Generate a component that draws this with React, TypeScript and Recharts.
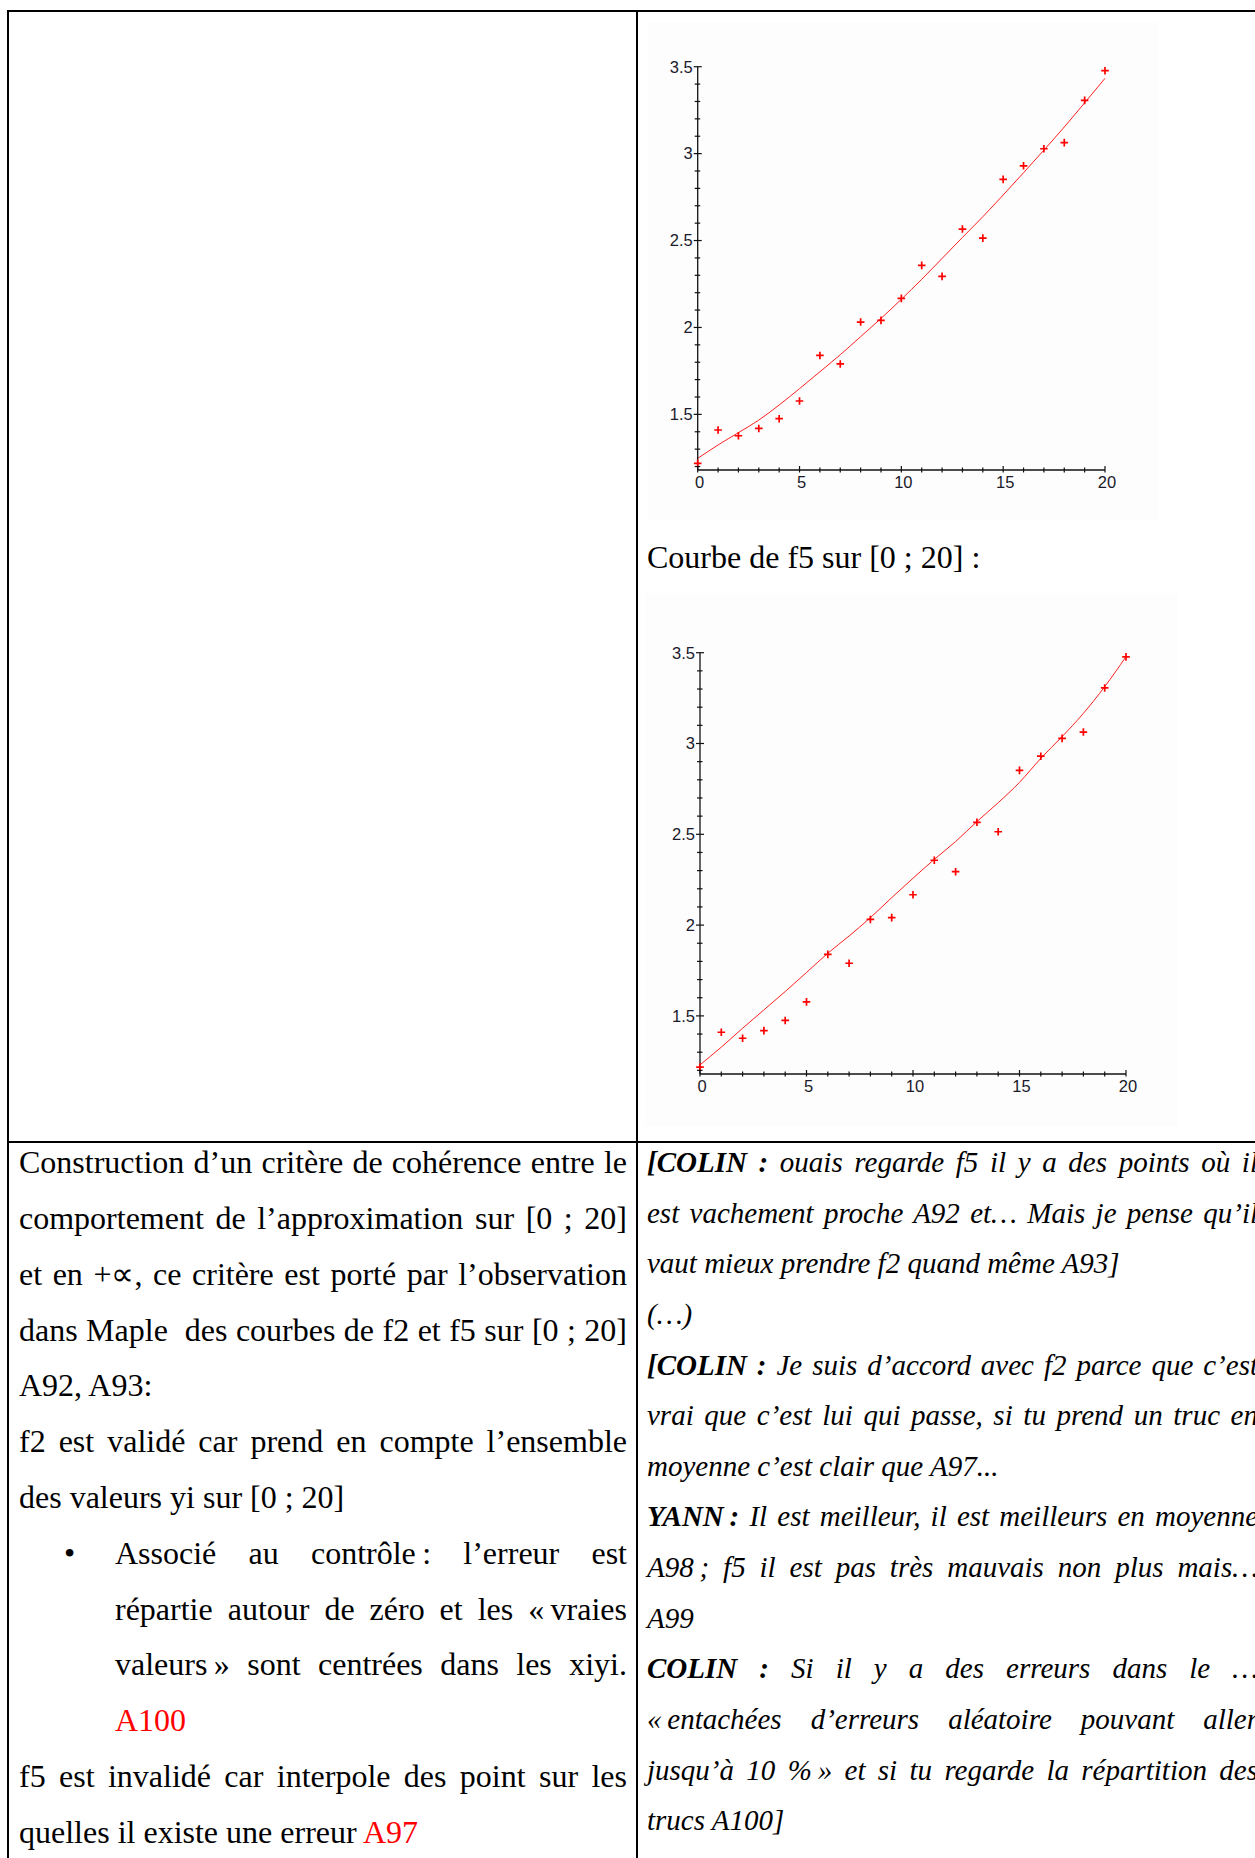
import React from "react";
import { ComposedChart, Line, Scatter, XAxis, YAxis } from "recharts";

// Mesures xi / yi et les deux ajustements tracés sur [0 ; 20]
const xValues = [0, 1, 2, 3, 4, 5, 6, 7, 8, 9, 10, 11, 12, 13, 14, 15, 16, 17, 18, 19, 20];
const observedY = [
  1.218, 1.41, 1.377, 1.419, 1.475, 1.577, 1.839, 1.79, 2.031, 2.041, 2.167,
  2.357, 2.294, 2.566, 2.514, 2.852, 2.93, 3.028, 3.063, 3.306, 3.477,
];
const f2Values = [
  1.247, 1.324, 1.395, 1.467, 1.554, 1.648, 1.745, 1.843, 1.947, 2.052, 2.162,
  2.277, 2.397, 2.518, 2.637, 2.762, 2.89, 3.02, 3.153, 3.292, 3.433,
];
const f5Values = [
  1.23, 1.328, 1.432, 1.533, 1.634, 1.739, 1.845, 1.94, 2.041, 2.151, 2.258,
  2.362, 2.46, 2.57, 2.674, 2.786, 2.918, 3.038, 3.166, 3.313, 3.478,
];

const xTicks = [0, 1, 2, 3, 4, 5, 6, 7, 8, 9, 10, 11, 12, 13, 14, 15, 16, 17, 18, 19, 20];
const xTickLabels = [0, 5, 10, 15, 20];
const yTicks = [
  1.2, 1.3, 1.4, 1.5, 1.6, 1.7, 1.8, 1.9, 2, 2.1, 2.2, 2.3, 2.4, 2.5, 2.6, 2.7,
  2.8, 2.9, 3, 3.1, 3.2, 3.3, 3.4, 3.5,
];
const yTickLabels = [1.5, 2, 2.5, 3, 3.5];

const axisColor = "#111";
const tickFont = { fontFamily: "'Liberation Sans', Arial, sans-serif", fontSize: 16.5, fill: "#1a1a2a" };

function XTick(props: any) {
  const { x, y, payload } = props;
  const major = xTickLabels.includes(payload.value);
  return (
    <g>
      <line x1={x} x2={x} y1={y - (major ? 4 : 2.5)} y2={y + 2.5} stroke={axisColor} strokeWidth={1.2} />
      {major && (
        <text x={x + 2} y={y + 18} textAnchor="middle" style={tickFont}>
          {payload.value}
        </text>
      )}
    </g>
  );
}

function YTick(props: any) {
  const { x, y, payload } = props;
  const major = yTickLabels.includes(payload.value);
  return (
    <g>
      <line x1={x - (major ? 4 : 3)} x2={x + (major ? 4 : 2.5)} y1={y} y2={y} stroke={axisColor} strokeWidth={1.2} />
      {major && (
        <text x={x - 5} y={y + 5.8} textAnchor="end" style={tickFont}>
          {payload.value}
        </text>
      )}
    </g>
  );
}

function Cross(props: any) {
  const { cx, cy } = props;
  if (cx == null || cy == null) return null;
  return (
    <path
      d={`M${cx - 3.8},${cy}H${cx + 3.8}M${cx},${cy - 3.8}V${cy + 3.8}`}
      stroke="#ff0000"
      strokeWidth={1.7}
      fill="none"
    />
  );
}

function FitChart({
  fit,
  width,
  height,
  top,
  right,
  yAxisWidth,
  xAxisHeight,
}: {
  fit: number[];
  width: number;
  height: number;
  top: number;
  right: number;
  yAxisWidth: number;
  xAxisHeight: number;
}) {
  const rows = xValues.map((x, i) => ({ x, obs: observedY[i], fit: fit[i] }));
  return (
    <ComposedChart width={width} height={height} data={rows} margin={{ top, right, bottom: 0, left: 0 }}>
      <XAxis
        type="number"
        dataKey="x"
        domain={[0, 20]}
        ticks={xTicks}
        interval={0}
        tick={(p: any) => <XTick {...p} />}
        tickLine={false}
        tickSize={0}
        tickMargin={0}
        height={xAxisHeight}
        axisLine={{ stroke: axisColor, strokeWidth: 1.3 }}
      />
      <YAxis
        type="number"
        domain={[1.18, 3.5]}
        allowDataOverflow
        ticks={yTicks}
        interval={0}
        tick={(p: any) => <YTick {...p} />}
        tickLine={false}
        tickSize={0}
        tickMargin={0}
        width={yAxisWidth}
        axisLine={{ stroke: axisColor, strokeWidth: 1.3 }}
      />
      <Line dataKey="fit" type="monotone" stroke="#ff2020" strokeWidth={1} dot={false} isAnimationActive={false} />
      <Scatter dataKey="obs" shape={(p: any) => <Cross {...p} />} isAnimationActive={false} />
    </ComposedChart>
  );
}

type Part = { text: string; bold?: boolean; red?: boolean };
type TextLine = { parts: Part[]; justify?: boolean };

// espace fine insécable devant la ponctuation double
const nb = "\u202F";

const leftLines: TextLine[] = [
  { parts: [{ text: "Construction d\u2019un critère de cohérence entre le" }], justify: true },
  { parts: [{ text: "comportement de l\u2019approximation sur [0 ; 20]" }], justify: true },
  { parts: [{ text: "et en +\u221D, ce critère est porté par l\u2019observation" }], justify: true },
  { parts: [{ text: "dans Maple  des courbes de f2 et f5 sur [0 ; 20]" }], justify: true },
  { parts: [{ text: "A92, A93:" }] },
  { parts: [{ text: "f2 est validé car prend en compte l\u2019ensemble" }], justify: true },
  { parts: [{ text: "des valeurs yi sur [0 ; 20]" }] },
];

const bulletLines: TextLine[] = [
  { parts: [{ text: `Associé au contrôle${nb}: l\u2019erreur est` }], justify: true },
  { parts: [{ text: `répartie autour de zéro et les «${nb}vraies` }], justify: true },
  { parts: [{ text: `valeurs${nb}» sont centrées dans les xiyi.` }], justify: true },
  { parts: [{ text: "A100", red: true }] },
];

const tailLines: TextLine[] = [
  { parts: [{ text: "f5 est invalidé car interpole des point sur les" }], justify: true },
  { parts: [{ text: "quelles il existe une erreur " }, { text: "A97", red: true }] },
];

const rightLines: TextLine[] = [
  { parts: [{ text: "[COLIN :", bold: true }, { text: " ouais regarde f5 il y a des points où il" }], justify: true },
  { parts: [{ text: "est vachement proche A92 et\u2026 Mais je pense qu\u2019il" }], justify: true },
  { parts: [{ text: "vaut mieux prendre f2 quand même A93]" }] },
  { parts: [{ text: "(\u2026)" }] },
  { parts: [{ text: "[COLIN :", bold: true }, { text: " Je suis d\u2019accord avec f2 parce que c\u2019est" }], justify: true },
  { parts: [{ text: "vrai que c\u2019est lui qui passe, si tu prend un truc en" }], justify: true },
  { parts: [{ text: "moyenne c\u2019est clair que A97..." }] },
  { parts: [{ text: `YANN${nb}:`, bold: true }, { text: " Il est meilleur, il est meilleurs en moyenne" }], justify: true },
  { parts: [{ text: `A98${nb}; f5 il est pas très mauvais non plus mais\u2026` }], justify: true },
  { parts: [{ text: "A99" }] },
  { parts: [{ text: "COLIN :", bold: true }, { text: " Si il y a des erreurs dans le \u2026" }], justify: true },
  { parts: [{ text: `«${nb}entachées d\u2019erreurs aléatoire pouvant aller` }], justify: true },
  { parts: [{ text: `jusqu\u2019à 10 %${nb}» et si tu regarde la répartition des` }], justify: true },
  { parts: [{ text: "trucs A100]" }] },
];

const serif = "'Liberation Serif', 'Times New Roman', serif";

function TextBlock({
  lines,
  left,
  top,
  width,
  fontSize,
  lineHeight,
  italic,
}: {
  lines: TextLine[];
  left: number;
  top: number;
  width: number;
  fontSize: number;
  lineHeight: number;
  italic?: boolean;
}) {
  return (
    <div
      style={{
        position: "absolute",
        left,
        top,
        width,
        fontFamily: serif,
        fontSize,
        lineHeight: `${lineHeight}px`,
        fontStyle: italic ? "italic" : "normal",
        color: "#000",
      }}
    >
      {lines.map((line, i) => (
        <div
          key={i}
          style={{
            height: lineHeight,
            textAlign: line.justify ? "justify" : "left",
            textAlignLast: line.justify ? "justify" : "left",
            whiteSpace: "pre-wrap",
          }}
        >
          {line.parts.map((p, j) => (
            <span key={j} style={{ fontWeight: p.bold ? "bold" : "normal", color: p.red ? "#ff0000" : "#000" }}>
              {p.text}
            </span>
          ))}
        </div>
      ))}
    </div>
  );
}

export default function App() {
  const rule = "#000";
  const leftTop = 1135.3;
  const leftStep = 55.8;
  return (
    <div
      style={{
        position: "absolute",
        left: 0,
        top: 0,
        width: 1255,
        height: 1858,
        overflow: "hidden",
        background: "#fff",
      }}
    >
      {/* cadre du tableau */}
      <div style={{ position: "absolute", left: 7, top: 10, width: 1260, height: 2, background: rule }} />
      <div style={{ position: "absolute", left: 7, top: 10, width: 2, height: 1860, background: rule }} />
      <div style={{ position: "absolute", left: 636, top: 10, width: 2, height: 1860, background: rule }} />
      <div style={{ position: "absolute", left: 7, top: 1141, width: 1260, height: 2, background: rule }} />

      {/* courbe de f2 */}
      <div style={{ position: "absolute", left: 648, top: 22, width: 510, height: 498, background: "#fdfdfd" }}>
        <FitChart fit={f2Values} width={510} height={498} top={44.7} right={53} yAxisWidth={49.7} xAxisHeight={50} />
      </div>

      <div
        style={{
          position: "absolute",
          left: 647,
          top: 537,
          fontFamily: serif,
          fontSize: 32,
          lineHeight: "40px",
          whiteSpace: "nowrap",
        }}
      >
        Courbe de f5 sur [0 ; 20] :
      </div>

      {/* courbe de f5 */}
      <div style={{ position: "absolute", left: 645, top: 593, width: 533, height: 533, background: "#fdfdfd" }}>
        <FitChart fit={f5Values} width={533} height={533} top={59.7} right={52} yAxisWidth={55} xAxisHeight={52} />
      </div>

      <TextBlock lines={leftLines} left={19} top={leftTop} width={608} fontSize={32} lineHeight={leftStep} />
      <div
        style={{
          position: "absolute",
          left: 64,
          top: leftTop + leftStep * 7,
          fontFamily: serif,
          fontSize: 32,
          lineHeight: `${leftStep}px`,
        }}
      >
        {"\u2022"}
      </div>
      <TextBlock lines={bulletLines} left={115} top={leftTop + leftStep * 7} width={512} fontSize={32} lineHeight={leftStep} />
      <TextBlock lines={tailLines} left={19} top={leftTop + leftStep * 11} width={608} fontSize={32} lineHeight={leftStep} />

      <TextBlock lines={rightLines} left={647} top={1137} width={611} fontSize={29} lineHeight={50.65} italic />
    </div>
  );
}
